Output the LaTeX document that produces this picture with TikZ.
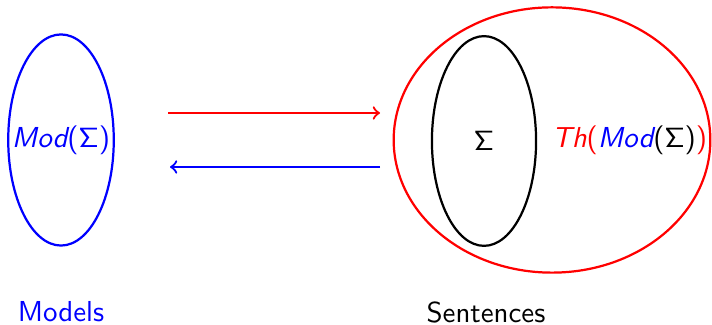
\documentclass[tikz,border=0pt]{standalone}
\usepackage{xcolor}
\usepackage{tikz}
\usetikzlibrary{positioning, shapes.geometric, calc}
\newcommand{\ModS}{{\itshape Mod}(\ensuremath{\mathsf{\Sigma}})}

\begin{document}
\begin{tikzpicture}[x=0.36pt, y=0.36pt, font=\sffamily\fontsize{10.4}{12.5}\selectfont, line width=0.8pt,
            oval/.style={ellipse, draw, inner sep=0pt}]
            \useasboundingbox (0,0) rectangle (712,325);
            \node[oval, draw=blue, minimum width=38pt, minimum height=76pt] (models) at (61,185) {};
            \node[oval, draw=red, minimum width=114pt, minimum height=95.5pt] (th) at (552,185) {};
            \node[oval, draw=black, minimum width=37.5pt, minimum height=75.5pt] (sigma) at (484,184) {$\mathsf{\Sigma}$};
            \node[text=blue, inner sep=0pt] (modlabel) at (models) {\ModS};
            \node[anchor=west, inner sep=0pt] (thlabel) at (551,185) {\textcolor{red}{{\itshape Th}(}\textcolor{blue}{{\itshape Mod}}($\mathsf{\Sigma}$)\textcolor{red}{)}};
            \node[text=blue, inner sep=1pt] (mlabel) at (61,13) {Models};
            \node[inner sep=1pt] (slabel) at (486,13) {Sentences};
            \coordinate (r1) at (168,212);
            \coordinate (r2) at (380,212);
            \coordinate (b1) at (380,158);
            \coordinate (b2) at (170,158);
            \draw[->, red] (r1) -- (r2);
            \draw[->, blue] (b1) -- (b2);
        \end{tikzpicture}
\end{document}
